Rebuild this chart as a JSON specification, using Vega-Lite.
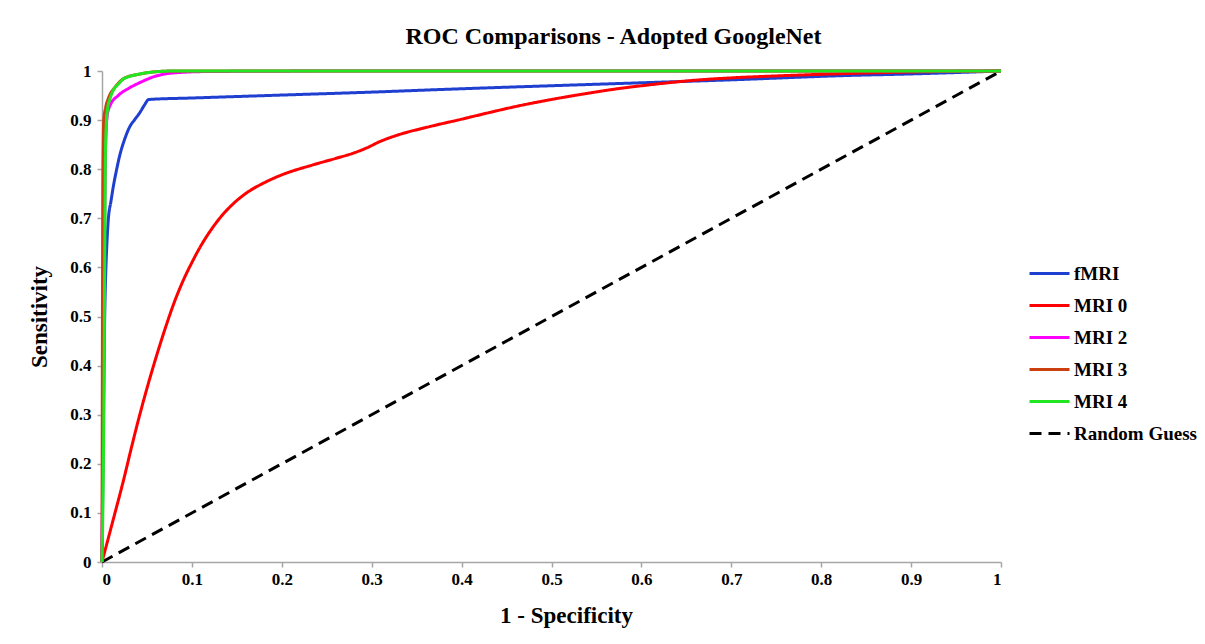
{
  "$schema": "https://vega.github.io/schema/vega-lite/v6.json",
  "width": 899,
  "height": 491,
  "autosize": {"type": "none"},
  "padding": {"left": 102, "top": 71, "right": 204, "bottom": 82},
  "background": "white",
  "config": {"view": {"stroke": null}},
  "title": {
    "text": "ROC Comparisons - Adopted GoogleNet",
    "font": "Liberation Serif",
    "fontSize": 24,
    "fontWeight": "bold",
    "color": "black",
    "anchor": "middle",
    "dx": 62,
    "offset": 13
  },
  "data": {
    "values": [
      {"s": "Random Guess", "x": 0, "y": 0},
      {"s": "Random Guess", "x": 1, "y": 1},
      {"s": "fMRI", "x": 0, "y": 0},
      {"s": "fMRI", "x": 0.002, "y": 0.35},
      {"s": "fMRI", "x": 0.003, "y": 0.5},
      {"s": "fMRI", "x": 0.004, "y": 0.58},
      {"s": "fMRI", "x": 0.005, "y": 0.63},
      {"s": "fMRI", "x": 0.007, "y": 0.697},
      {"s": "fMRI", "x": 0.01, "y": 0.735},
      {"s": "fMRI", "x": 0.0126, "y": 0.765},
      {"s": "fMRI", "x": 0.016, "y": 0.797},
      {"s": "fMRI", "x": 0.02, "y": 0.83},
      {"s": "fMRI", "x": 0.025, "y": 0.86},
      {"s": "fMRI", "x": 0.031, "y": 0.887},
      {"s": "fMRI", "x": 0.036, "y": 0.9},
      {"s": "fMRI", "x": 0.042, "y": 0.915},
      {"s": "fMRI", "x": 0.047, "y": 0.93},
      {"s": "fMRI", "x": 0.052, "y": 0.942},
      {"s": "fMRI", "x": 0.1, "y": 0.945},
      {"s": "fMRI", "x": 0.2, "y": 0.951},
      {"s": "fMRI", "x": 0.3, "y": 0.957},
      {"s": "fMRI", "x": 0.387, "y": 0.963},
      {"s": "fMRI", "x": 0.5, "y": 0.97},
      {"s": "fMRI", "x": 0.6, "y": 0.976},
      {"s": "fMRI", "x": 0.7, "y": 0.982},
      {"s": "fMRI", "x": 0.832, "y": 0.991},
      {"s": "fMRI", "x": 0.9, "y": 0.994},
      {"s": "fMRI", "x": 1, "y": 1},
      {"s": "MRI 0", "x": 0, "y": 0},
      {"s": "MRI 0", "x": 0.012, "y": 0.083},
      {"s": "MRI 0", "x": 0.024, "y": 0.167},
      {"s": "MRI 0", "x": 0.033, "y": 0.235},
      {"s": "MRI 0", "x": 0.042, "y": 0.3},
      {"s": "MRI 0", "x": 0.051, "y": 0.36},
      {"s": "MRI 0", "x": 0.06, "y": 0.416},
      {"s": "MRI 0", "x": 0.07, "y": 0.474},
      {"s": "MRI 0", "x": 0.08, "y": 0.527},
      {"s": "MRI 0", "x": 0.09, "y": 0.572},
      {"s": "MRI 0", "x": 0.1, "y": 0.61},
      {"s": "MRI 0", "x": 0.11, "y": 0.644},
      {"s": "MRI 0", "x": 0.12, "y": 0.673},
      {"s": "MRI 0", "x": 0.13, "y": 0.698},
      {"s": "MRI 0", "x": 0.145, "y": 0.728},
      {"s": "MRI 0", "x": 0.161, "y": 0.752},
      {"s": "MRI 0", "x": 0.18, "y": 0.772},
      {"s": "MRI 0", "x": 0.198, "y": 0.787},
      {"s": "MRI 0", "x": 0.235, "y": 0.809},
      {"s": "MRI 0", "x": 0.26, "y": 0.822},
      {"s": "MRI 0", "x": 0.28, "y": 0.833},
      {"s": "MRI 0", "x": 0.294, "y": 0.843},
      {"s": "MRI 0", "x": 0.31, "y": 0.857},
      {"s": "MRI 0", "x": 0.328, "y": 0.869},
      {"s": "MRI 0", "x": 0.365, "y": 0.887},
      {"s": "MRI 0", "x": 0.398, "y": 0.901},
      {"s": "MRI 0", "x": 0.43, "y": 0.915},
      {"s": "MRI 0", "x": 0.461, "y": 0.928},
      {"s": "MRI 0", "x": 0.5, "y": 0.942},
      {"s": "MRI 0", "x": 0.535, "y": 0.953},
      {"s": "MRI 0", "x": 0.57, "y": 0.963},
      {"s": "MRI 0", "x": 0.61, "y": 0.972},
      {"s": "MRI 0", "x": 0.665, "y": 0.982},
      {"s": "MRI 0", "x": 0.7, "y": 0.986},
      {"s": "MRI 0", "x": 0.75, "y": 0.99},
      {"s": "MRI 0", "x": 0.832, "y": 0.995},
      {"s": "MRI 0", "x": 0.9, "y": 0.998},
      {"s": "MRI 0", "x": 1, "y": 1},
      {"s": "MRI 2", "x": 0, "y": 0},
      {"s": "MRI 2", "x": 0.002, "y": 0.5},
      {"s": "MRI 2", "x": 0.004, "y": 0.85},
      {"s": "MRI 2", "x": 0.006, "y": 0.912},
      {"s": "MRI 2", "x": 0.009, "y": 0.93},
      {"s": "MRI 2", "x": 0.018, "y": 0.95},
      {"s": "MRI 2", "x": 0.029, "y": 0.964},
      {"s": "MRI 2", "x": 0.044, "y": 0.978},
      {"s": "MRI 2", "x": 0.057, "y": 0.988},
      {"s": "MRI 2", "x": 0.07, "y": 0.994},
      {"s": "MRI 2", "x": 0.087, "y": 0.997},
      {"s": "MRI 2", "x": 0.12, "y": 0.999},
      {"s": "MRI 2", "x": 0.3, "y": 1},
      {"s": "MRI 2", "x": 1, "y": 1},
      {"s": "MRI 3", "x": 0, "y": 0},
      {"s": "MRI 3", "x": 0.0005, "y": 0.5},
      {"s": "MRI 3", "x": 0.001, "y": 0.8},
      {"s": "MRI 3", "x": 0.002, "y": 0.9},
      {"s": "MRI 3", "x": 0.004, "y": 0.925},
      {"s": "MRI 3", "x": 0.007, "y": 0.944},
      {"s": "MRI 3", "x": 0.0145, "y": 0.967},
      {"s": "MRI 3", "x": 0.0256, "y": 0.986},
      {"s": "MRI 3", "x": 0.04, "y": 0.993},
      {"s": "MRI 3", "x": 0.057, "y": 0.998},
      {"s": "MRI 3", "x": 0.08, "y": 1},
      {"s": "MRI 3", "x": 1, "y": 1},
      {"s": "MRI 4", "x": 0, "y": 0},
      {"s": "MRI 4", "x": 0.002, "y": 0.3},
      {"s": "MRI 4", "x": 0.003, "y": 0.6},
      {"s": "MRI 4", "x": 0.004, "y": 0.85},
      {"s": "MRI 4", "x": 0.006, "y": 0.92},
      {"s": "MRI 4", "x": 0.009, "y": 0.944},
      {"s": "MRI 4", "x": 0.0126, "y": 0.961},
      {"s": "MRI 4", "x": 0.018, "y": 0.973},
      {"s": "MRI 4", "x": 0.024, "y": 0.984},
      {"s": "MRI 4", "x": 0.029, "y": 0.988},
      {"s": "MRI 4", "x": 0.042, "y": 0.994},
      {"s": "MRI 4", "x": 0.057, "y": 0.998},
      {"s": "MRI 4", "x": 0.08, "y": 1},
      {"s": "MRI 4", "x": 1, "y": 1}
    ]
  },
  "mark": {"type": "line", "strokeWidth": 3, "interpolate": "monotone", "clip": false},
  "encoding": {
    "x": {
      "field": "x",
      "type": "quantitative",
      "scale": {"domain": [0, 1], "nice": false, "zero": true},
      "axis": {
        "title": "1 - Specificity",
        "values": [0, 0.1, 0.2, 0.3, 0.4, 0.5, 0.6, 0.7, 0.8, 0.9, 1],
        "format": "~g",
        "grid": false,
        "domainColor": "#a6a6a6",
        "domainWidth": 1.5,
        "tickColor": "#a6a6a6",
        "tickWidth": 1.5,
        "tickSize": 5,
        "labelFont": "Liberation Serif",
        "labelFontWeight": "bold",
        "labelFontSize": 17,
        "labelColor": "black",
        "labelPadding": 4,
        "titleFont": "Liberation Serif",
        "titleFontWeight": "bold",
        "titleFontSize": 23,
        "titleColor": "black",
        "titlePadding": 17,
        "titleX": 464
      }
    },
    "y": {
      "field": "y",
      "type": "quantitative",
      "scale": {"domain": [0, 1], "nice": false},
      "axis": {
        "title": "Sensitivity",
        "values": [0, 0.1, 0.2, 0.3, 0.4, 0.5, 0.6, 0.7, 0.8, 0.9, 1],
        "format": "~g",
        "grid": false,
        "domainColor": "#a6a6a6",
        "domainWidth": 1.5,
        "tickColor": "#a6a6a6",
        "tickWidth": 1.5,
        "tickSize": 5,
        "labelFont": "Liberation Serif",
        "labelFontWeight": "bold",
        "labelFontSize": 17,
        "labelColor": "black",
        "labelPadding": 6,
        "titleFont": "Liberation Serif",
        "titleFontWeight": "bold",
        "titleFontSize": 23,
        "titleColor": "black",
        "titlePadding": 18
      }
    },
    "color": {
      "field": "s",
      "type": "nominal",
      "scale": {
        "domain": ["fMRI", "MRI 0", "MRI 2", "MRI 3", "MRI 4", "Random Guess"],
        "range": ["#1f3fd0", "#ff0000", "#ff00ff", "#cc4010", "#22e622", "#000000"]
      },
      "legend": {
        "title": null,
        "orient": "none",
        "legendX": 926,
        "legendY": 181,
        "symbolType": "stroke",
        "symbolSize": 1600,
        "symbolStrokeWidth": 3,
        "labelFont": "Liberation Serif",
        "labelFontWeight": "bold",
        "labelFontSize": 19,
        "labelColor": "black",
        "labelOffset": 3,
        "rowPadding": -1
      }
    },
    "strokeDash": {
      "field": "s",
      "type": "nominal",
      "scale": {
        "domain": ["fMRI", "MRI 0", "MRI 2", "MRI 3", "MRI 4", "Random Guess"],
        "range": [[1, 0], [1, 0], [1, 0], [1, 0], [1, 0], [12, 7]]
      },
      "legend": null
    },
    "order": {"field": "x", "type": "quantitative"}
  }
}
